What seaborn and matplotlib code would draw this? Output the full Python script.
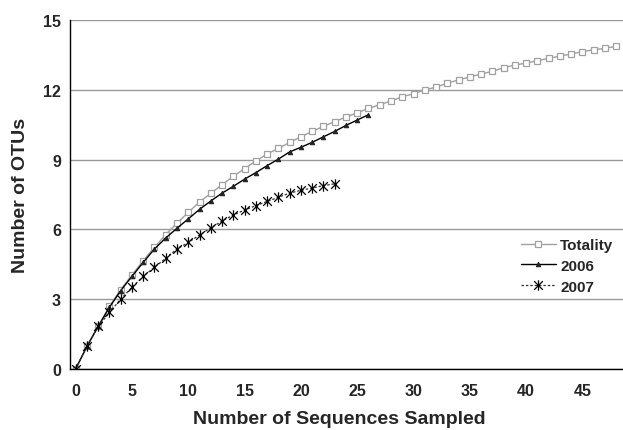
import numpy as np
import pandas as pd
import matplotlib
matplotlib.use("Agg")
import matplotlib.pyplot as plt
from matplotlib.path import Path
import seaborn as sns

# rarefaction values
totality = [0, 0.97, 1.83, 2.69, 3.41, 4.04, 4.66, 5.23, 5.78, 6.27,
            6.73, 7.18, 7.55, 7.92, 8.28, 8.61, 8.94, 9.24, 9.48, 9.74,
            9.98, 10.21, 10.43, 10.63, 10.83, 11.01, 11.2, 11.36, 11.52, 11.7,
            11.83, 11.99, 12.12, 12.28, 12.43, 12.55, 12.68, 12.79, 12.95, 13.06,
            13.15, 13.25, 13.35, 13.45, 13.54, 13.64, 13.72, 13.78, 13.87]
y2006 = [0, 0.97, 1.83, 2.65, 3.37, 3.98, 4.58, 5.16, 5.63, 6.05,
         6.45, 6.86, 7.22, 7.56, 7.85, 8.16, 8.44, 8.74, 9.02, 9.33,
         9.53, 9.74, 9.98, 10.21, 10.47, 10.7, 10.93]
y2007 = [0, 0.97, 1.83, 2.43, 3.0, 3.51, 3.98, 4.37, 4.76, 5.16,
         5.44, 5.76, 6.06, 6.36, 6.62, 6.83, 7.02, 7.2, 7.38, 7.56,
         7.68, 7.78, 7.88, 7.96]
series_names = ["Totality", "2006", "2007"]
x_ticks = list(range(0, 50, 5))
y_ticks = [0, 3, 6, 9, 12, 15]

sns.set_style("white")
plt.rcParams["font.family"] = ["Liberation Sans", "DejaVu Sans"]
plt.rcParams["font.weight"] = "bold"

# excel-like star marker: X plus a vertical bar
star = Path([(-1, -1), (1, 1), (-1, 1), (1, -1), (0, -1.2), (0, 1.2)],
            [Path.MOVETO, Path.LINETO, Path.MOVETO, Path.LINETO, Path.MOVETO, Path.LINETO])

fig = plt.figure(figsize=(6.23, 4.31), dpi=100)
ax = fig.add_axes([70 / 623, 61 / 431, 553 / 623, 349 / 431])

df_tot = pd.DataFrame({"x": np.arange(len(totality)), "y": totality})
df_06 = pd.DataFrame({"x": np.arange(len(y2006)), "y": y2006})
df_07 = pd.DataFrame({"x": np.arange(len(y2007)), "y": y2007})

sns.lineplot(data=df_tot, x="x", y="y", ax=ax, color="#a0a0a0", lw=1,
             marker="s", markersize=5, markerfacecolor="white",
             markeredgecolor="#a0a0a0", markeredgewidth=0.9, label=series_names[0])
sns.lineplot(data=df_06, x="x", y="y", ax=ax, color="black", lw=1,
             marker="^", markersize=3.2, markerfacecolor="#222222",
             markeredgecolor="#222222", label=series_names[1])
sns.lineplot(data=df_07, x="x", y="y", ax=ax, color="#333333", lw=0.9,
             linestyle=(0, (2, 1.5)), marker=star, markersize=7.5,
             markerfacecolor="none", markeredgecolor="black",
             markeredgewidth=0.9, label=series_names[2])

ax.set_xlim(-0.5, 48.6)
ax.set_ylim(0, 15)
ax.set_xticks(x_ticks)
ax.set_yticks(y_ticks)
ax.yaxis.grid(True, color="#999999", lw=1)
ax.xaxis.grid(False)
ax.tick_params(length=0, labelsize=11.5)
ax.tick_params(axis="y", pad=6.5)
ax.tick_params(axis="x", pad=10)
for lab in ax.get_xticklabels() + ax.get_yticklabels():
    lab.set_fontweight("bold")

sns.despine(ax=ax, top=True, right=True)
ax.spines["left"].set_color("black")
ax.spines["bottom"].set_color("black")
ax.spines["left"].set_linewidth(1)
ax.spines["bottom"].set_linewidth(1)

ax.set_xlabel("Number of Sequences Sampled", fontsize=14, fontweight="bold", labelpad=9)
ax.xaxis.label.set_x(0.487)
ax.set_ylabel("Number of OTUs", fontsize=14, fontweight="bold", labelpad=10)

leg = ax.legend(loc="upper left", bbox_to_anchor=(0.79, 0.415), frameon=False,
                fontsize=11, handlelength=2.3, handletextpad=0.3, labelspacing=0.45)
for t in leg.get_texts():
    t.set_fontweight("bold")

fig.savefig("out.png", dpi=100)
